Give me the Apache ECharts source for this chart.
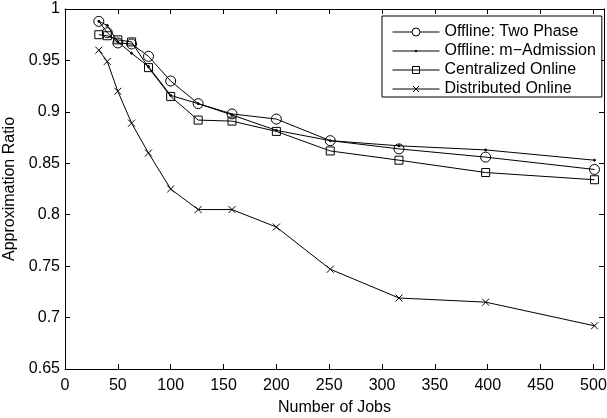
<!DOCTYPE html>
<html>
<head>
<meta charset="utf-8">
<script src="https://cdn.jsdelivr.net/npm/echarts@6/dist/echarts.min.js"></script>
<style>html,body{margin:0;padding:0;background:#fff}#c{width:607px;height:418px}</style>
</head>
<body>
<div id="c"></div>
<script>
var jobs = [32, 40, 50, 63, 79, 100, 126, 158, 200, 251, 316, 398, 501];
var twoPhase = [0.988, 0.977, 0.967, 0.966, 0.954, 0.930, 0.908, 0.898, 0.893, 0.872, 0.864, 0.856, 0.844];
var mAdmission = [0.988, 0.984, 0.968, 0.957, 0.944, 0.916, 0.908, 0.897, 0.882, 0.872, 0.867, 0.863, 0.853];
var centralized = [0.975, 0.974, 0.970, 0.968, 0.943, 0.915, 0.892, 0.891, 0.881, 0.862, 0.853, 0.841, 0.834];
var distributed = [0.960, 0.949, 0.920, 0.889, 0.860, 0.825, 0.805, 0.805, 0.788, 0.747, 0.719, 0.715, 0.692];
var seriesNames = ['Offline: Two Phase', 'Offline: m\u2212Admission', 'Centralized Online', 'Distributed Online'];
var xTicks = [0, 50, 100, 150, 200, 250, 300, 350, 400, 450, 500];
var yTicks = [0.65, 0.7, 0.75, 0.8, 0.85, 0.9, 0.95, 1];

var FONT = "'Liberation Sans', Arial, Helvetica, sans-serif";
function pairs(ys){ return jobs.map(function(x,i){ return [x, ys[i]]; }); }
var crossPath = 'path://M0,0L10,10M10,0L0,10';

// legend icons (47 x 10 box): line with marker in the middle
var legendIcons = [
  'path://M0,5L19.5,5M27.5,5L47,5M27.5,5A4,4,0,1,1,19.5,5A4,4,0,1,1,27.5,5Z',
  'path://M0,5L47,5M24.3,5A0.8,0.8,0,1,1,22.7,5A0.8,0.8,0,1,1,24.3,5Z',
  'path://M0,5L47,5M20,1.5L27,1.5L27,8.5L20,8.5Z',
  'path://M0,5L47,5M20.5,2L26.5,8M26.5,2L20.5,8'
];

function mk(name, data, symbol, size, filled){
  return {
    name: name, type: 'line', data: pairs(data),
    symbol: symbol, symbolSize: size, showSymbol: true,
    lineStyle: {color: '#000', width: 1},
    itemStyle: filled ? {color: '#000', borderColor: '#000', borderWidth: 1}
                      : {color: 'rgba(0,0,0,0)', borderColor: '#000', borderWidth: 1},
    emphasis: {disabled: true},
    animation: false, z: 3
  };
}

var chart = echarts.init(document.getElementById('c'), null, {renderer: 'canvas'});
var axisLine = {show: true, onZero: false, lineStyle: {color: '#000', width: 1}};
var tick = {show: true, inside: true, length: 5, lineStyle: {color: '#000', width: 1}};
chart.setOption({
  animation: false,
  backgroundColor: '#fff',
  grid: {left: 65, right: 3, top: 9, bottom: 49, containLabel: false, outerBoundsMode: 'none'},
  legend: {
    left: 382, top: 16, orient: 'vertical',
    backgroundColor: '#fff', borderColor: '#000', borderWidth: 1,
    padding: [8, 6, 0, 10],
    itemWidth: 47, itemHeight: 10, itemGap: 3,
    symbolKeepAspect: true,
    textStyle: {fontFamily: FONT, fontSize: 16, color: '#000', lineHeight: 16},
    data: seriesNames.map(function(n, i){
      return {name: n, icon: legendIcons[i],
        itemStyle: {color: i === 1 ? '#000' : 'rgba(0,0,0,0)', borderColor: '#000', borderWidth: 1}};
    })
  },
  xAxis: [{
    type: 'value', min: 0, max: 510, interval: 50,
    name: 'Number of Jobs', nameLocation: 'middle', nameGap: 31,
    nameTextStyle: {fontFamily: FONT, fontSize: 16, color: '#000'},
    axisLine: axisLine, axisTick: tick, splitLine: {show: false},
    axisLabel: {fontFamily: FONT, fontSize: 16, color: '#000', margin: 9,
      formatter: function(v){ return xTicks.indexOf(v) >= 0 ? String(v) : ''; }}
  }, {
    type: 'value', min: 0, max: 510, interval: 50, position: 'top',
    axisLine: axisLine, axisTick: tick, splitLine: {show: false}, axisLabel: {show: false}
  }],
  yAxis: [{
    type: 'value', min: 0.65, max: 1, interval: 0.05,
    name: 'Approximation Ratio', nameLocation: 'middle', nameGap: 41,
    nameTextStyle: {fontFamily: FONT, fontSize: 16, color: '#000'},
    axisLine: axisLine, axisTick: tick, splitLine: {show: false},
    axisLabel: {fontFamily: FONT, fontSize: 16, color: '#000', margin: 5,
      formatter: function(v){
        var r = Math.round(v*100)/100;
        for (var i=0;i<yTicks.length;i++){ if (Math.abs(yTicks[i]-r) < 1e-9) return String(yTicks[i]); }
        return '';
      }}
  }, {
    type: 'value', min: 0.65, max: 1, interval: 0.05, position: 'right',
    axisLine: axisLine, axisTick: tick, splitLine: {show: false}, axisLabel: {show: false}
  }],
  series: [
    mk(seriesNames[0], twoPhase, 'circle', 10, false),
    mk(seriesNames[1], mAdmission, 'circle', 2, true),
    mk(seriesNames[2], centralized, 'rect', 8, false),
    mk(seriesNames[3], distributed, crossPath, 7, false)
  ]
});
</script>
</body>
</html>
